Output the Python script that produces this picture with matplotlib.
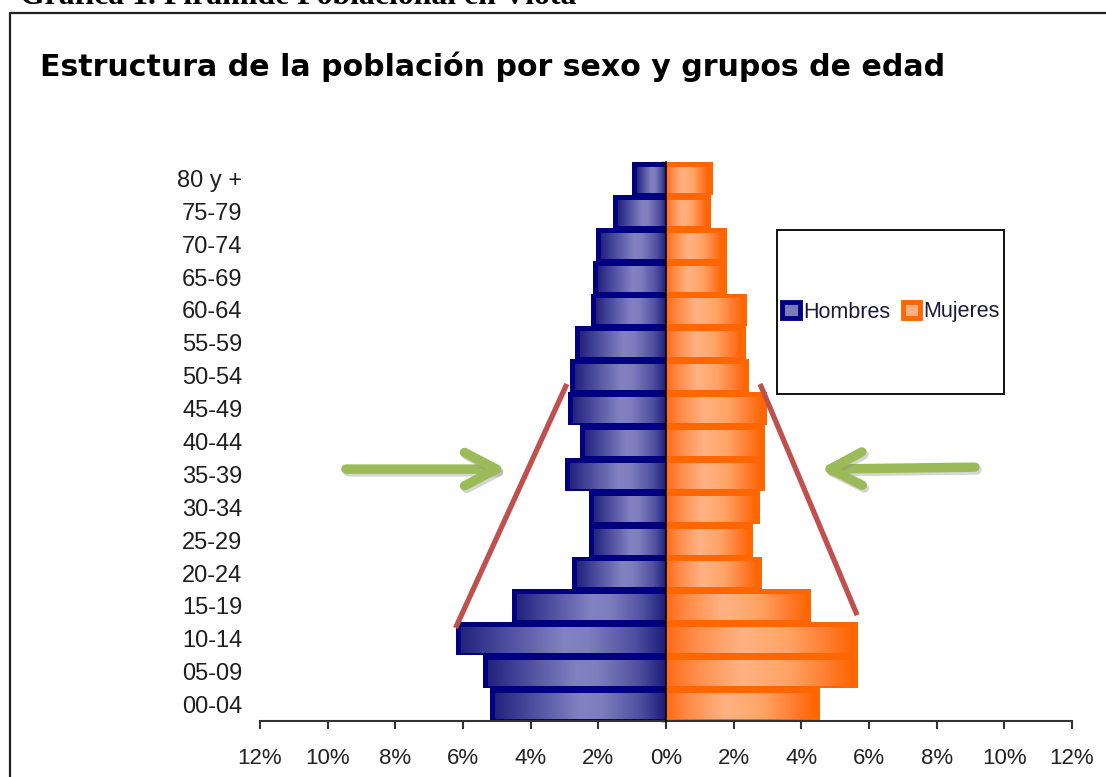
import matplotlib
matplotlib.use('Agg')
import matplotlib.pyplot as plt
import numpy as np
from matplotlib.colors import LinearSegmentedColormap
from matplotlib.patches import Rectangle, FancyArrowPatch, ArrowStyle
from matplotlib.lines import Line2D
import matplotlib.patheffects as pe

# ---------------- data ----------------
age_groups = ["00-04", "05-09", "10-14", "15-19", "20-24", "25-29", "30-34",
              "35-39", "40-44", "45-49", "50-54", "55-59", "60-64", "65-69",
              "70-74", "75-79", "80 y +"]
hombres = [5.2, 5.4, 6.2, 4.55, 2.78, 2.28, 2.28, 3.0, 2.55, 2.9, 2.84, 2.7,
           2.21, 2.16, 2.07, 1.57, 1.0]
mujeres = [4.54, 5.67, 5.67, 4.3, 2.83, 2.58, 2.77, 2.92, 2.93, 2.98, 2.46,
           2.35, 2.4, 1.8, 1.8, 1.33, 1.38]
xticks = [-12, -10, -8, -6, -4, -2, 0, 2, 4, 6, 8, 10, 12]
xticklabels = ["12%", "10%", "8%", "6%", "4%", "2%", "0%", "2%", "4%", "6%",
               "8%", "10%", "12%"]
series_names = ["Hombres", "Mujeres"]
caption = "Gráfica 1. Pirámide Poblacional en Viotá"
title = "Estructura de la población por sexo y grupos de edad"

# annotation geometry (data units)
red_left = ([-6.22, -2.93], [2.33, 9.75])
red_right = ([2.78, 5.65], [9.75, 2.72])
arrow_left = ((-9.46, 7.16), (-4.71, 7.16))
arrow_right = ((9.13, 7.22), (4.55, 7.16))

# ---------------- figure ----------------
W, H = 1106, 777
fig = plt.figure(figsize=(W / 100, H / 100), dpi=100)
fig.patch.set_facecolor('white')

def fx(px):
    return px / W

def fy(py):
    return 1 - py / H

ax = fig.add_axes([fx(260), fy(721), fx(1072) - fx(260), fy(162) - fy(721)])
ax.set_facecolor('none')

n = len(age_groups)
y = np.arange(n)

men_cmap = LinearSegmentedColormap.from_list(
    'men', [(0.0, '#23237f'), (0.2, '#4a4a9c'), (0.5, '#8282c2'),
            (0.62, '#7e7ebe'), (0.85, '#4f4fa0'), (1.0, '#1c1c78')])
wom_cmap = LinearSegmentedColormap.from_list(
    'wom', [(0.0, '#ff6a14'), (0.15, '#ff8c48'), (0.4, '#ffb284'),
            (0.65, '#ffa466'), (0.88, '#ff7a2c'), (1.0, '#ff6600')])
grad = np.linspace(0, 1, 256).reshape(1, -1)

px_per_x = (1072 - 260) / 24.0
px_per_y = (721 - 162) / float(n)
inset_x = 5 / px_per_x
inset_top = 5.5 / px_per_y
inset_bot = 2 / px_per_y

for yi, v in zip(y, hombres):
    ax.add_patch(Rectangle((-v, yi - 0.5), v, 1.0, facecolor='#000080',
                           edgecolor='none', zorder=1))
    ax.imshow(grad, cmap=men_cmap, aspect='auto', interpolation='bilinear',
              extent=[-v + inset_x, 0, yi - 0.5 + inset_bot, yi + 0.5 - inset_top],
              zorder=1.5)
for yi, v in zip(y, mujeres):
    ax.add_patch(Rectangle((0, yi - 0.5), v, 1.0, facecolor='#ff6600',
                           edgecolor='none', zorder=1))
    ax.imshow(grad, cmap=wom_cmap, aspect='auto', interpolation='bilinear',
              extent=[0, v - inset_x, yi - 0.5 + inset_bot, yi + 0.5 - inset_top],
              zorder=1.5)

ax.set_xlim(-12, 12)
ax.set_ylim(-0.5, n - 0.5)

# spines
for s in ['top', 'right']:
    ax.spines[s].set_visible(False)
ax.spines['left'].set_position(('data', 0))
ax.spines['left'].set_linewidth(1.1)
ax.spines['left'].set_color('black')
ax.spines['left'].set_zorder(3)
ax.spines['bottom'].set_linewidth(1.5)
ax.spines['bottom'].set_color('#333333')

ax.set_xticks(xticks)
ax.set_xticklabels(xticklabels, fontsize=16, family='Liberation Sans', color='#222222')
ax.tick_params(axis='x', length=6, width=1.5, color='#333333', pad=13.5)

ax.set_yticks(y)
ax.set_yticklabels(age_groups, fontsize=17, family='Liberation Sans', color='#1e1e1e')
ax.set_yticks(np.arange(n + 1) - 0.5, minor=True)
ax.tick_params(axis='y', which='major', length=0, pad=305)
ax.tick_params(axis='y', which='minor', length=3.5, width=1.0, color='black', direction='out')

# annotations: red lines
for xs, ys in (red_left, red_right):
    ax.add_line(Line2D(xs, ys, color='#c0504d', lw=3.8, solid_capstyle='butt',
                       zorder=4, clip_on=False))

# green arrows
for (tail, head) in (arrow_left, arrow_right):
    arr = FancyArrowPatch(tail, head, arrowstyle=ArrowStyle('->', head_length=2.3, head_width=1.2),
                          mutation_scale=10, lw=6.8, color='#9bbb59',
                          capstyle='round', joinstyle='round', shrinkA=0, shrinkB=0,
                          zorder=5, clip_on=False,
                          path_effects=[pe.SimpleLineShadow(offset=(1.5, -2), shadow_color='#888888', alpha=0.35),
                                        pe.Normal()])
    ax.add_patch(arr)

# outer frame (left and top only visible)
fig.add_artist(Line2D([fx(9.5), fx(9.5), 1.01], [-0.01, fy(12.5), fy(12.5)],
                      color='#222222', lw=1.6, transform=fig.transFigure))

# legend box
fig.add_artist(Rectangle((fx(777), fy(394)), fx(1004) - fx(777), fy(230) - fy(394),
                         transform=fig.transFigure, facecolor='white',
                         edgecolor='#111111', lw=1.4, zorder=5))
handles = [Rectangle((0, 0), 1, 1, facecolor='#7b7bbb', edgecolor='#000080', lw=3.5),
           Rectangle((0, 0), 1, 1, facecolor='#ffb080', edgecolor='#ff6600', lw=3.5)]
leg = fig.legend(handles, series_names, loc='center',
                 bbox_to_anchor=(fx(891), fy(312)), ncol=2, frameon=False,
                 prop={'family': 'Liberation Sans', 'size': 15.5},
                 handlelength=0.8, handleheight=0.8, handletextpad=0.15,
                 columnspacing=0.6, borderaxespad=0)
leg.set_zorder(6)
for t in leg.get_texts():
    t.set_color('#1a1a3a')

# texts
t_title = fig.text(fx(40), fy(76), title, fontsize=20, fontweight='bold',
                   family='DejaVu Sans', color='black', ha='left', va='baseline')
t_cap = fig.text(fx(20), fy(4), caption, fontsize=20, fontweight='bold',
                 family='Liberation Serif', color='black', ha='left', va='baseline')

fig.canvas.draw()
r = fig.canvas.get_renderer()
for t, target in ((t_title, 905.0), (t_cap, 555.0)):
    w = t.get_window_extent(r).width
    t.set_fontsize(t.get_fontsize() * target / w)

fig.savefig('out.png', dpi=100)
